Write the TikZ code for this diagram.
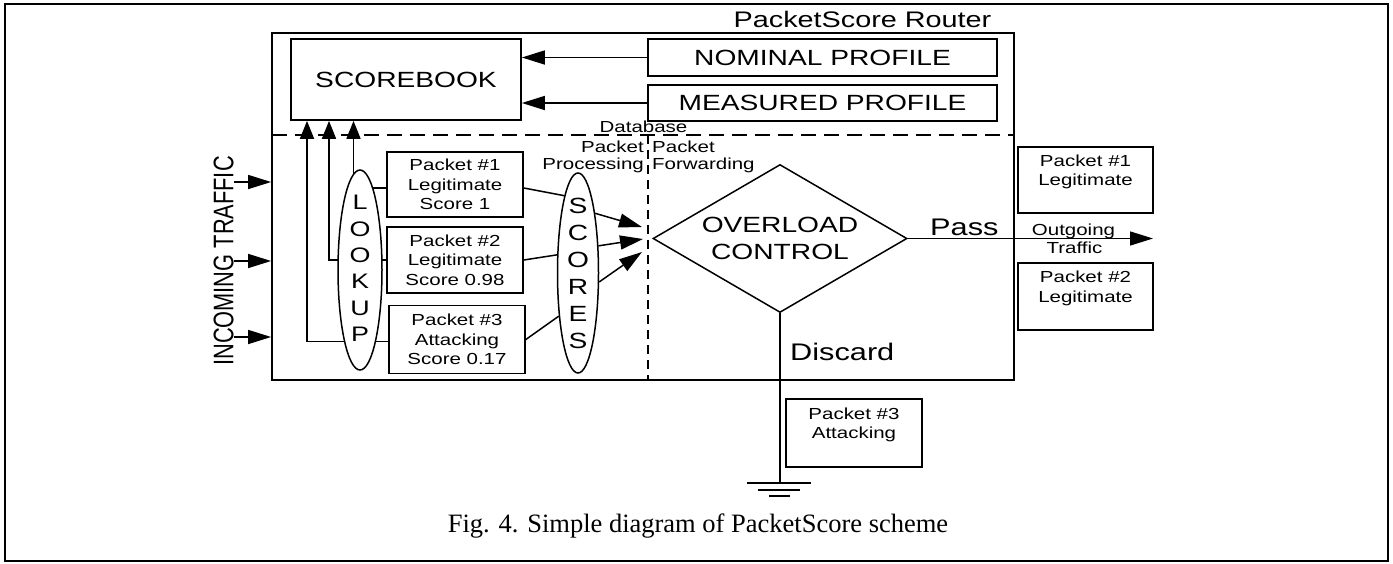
\documentclass[tikz,border=0pt]{standalone}
\usepackage{graphicx}
\usepackage{fontspec}
\setmainfont{Liberation Serif}
\newfontfamily\dfont[FakeStretch=1.28]{Liberation Sans}
\newfontfamily\rfont{Liberation Sans}
\usetikzlibrary{arrows.meta,shapes.geometric,backgrounds}
\newcommand\dsize[2]{\dfont\fontsize{#1}{#2}\selectfont}

\tikzset{
  box/.style={draw, line width=1.7pt, inner sep=0pt, align=center},
  pbox/.style={box, minimum width=136pt, minimum height=66pt, font=\dsize{16}{19.3}},
  lbl/.style={inner sep=0pt},
  letters/.style={inner sep=0pt, align=center},
  conn/.style={line width=1.5pt},
  arr/.style={conn, -{Triangle[length=23pt,width=14pt]}},
  uparr/.style={conn, -{Triangle[length=18pt,width=14pt]}},
  hdash/.style={line width=1.6pt, dash pattern=on 15pt off 8pt},
  vdash/.style={line width=1.6pt, dash pattern=on 9pt off 6pt},
  oval/.style={ellipse, draw, fill=white, line width=1.5pt, inner sep=0pt},
}

\begin{document}
\begin{tikzpicture}[x=1pt, y=-1pt, line join=miter]
\useasboundingbox (0,0) rectangle (1393,564);

% page frame
\draw[line width=2.6pt] (5,4) rectangle (1388,561);

% router enclosure and title
\node[box, minimum width=742pt, minimum height=347pt] (router) at (643,206.5) {};
\node[lbl, anchor=base, font=\dsize{22.5}{27}] (title) at (862.5,28) {PacketScore Router};

% database part
\node[box, minimum width=230pt, minimum height=81pt, font=\dsize{22}{26}] (scorebook) at (406,79.5) {SCOREBOOK};
\node[box, minimum width=349pt, minimum height=37pt, font=\dsize{22}{26}] (nominal) at (822.5,57.5) {NOMINAL PROFILE};
\node[box, minimum width=349pt, minimum height=36pt, font=\dsize{22}{26}] (measured) at (822.5,103) {MEASURED PROFILE};
\draw[arr] (nominal.west) -- (nominal.west -| scorebook.east);
\draw[arr] (measured.west) -- (measured.west -| scorebook.east);

% section separators
\coordinate (dbl) at (272,135);
\coordinate (dbr) at (1014,135);
\coordinate (vtop) at (648,135);
\draw[hdash] (dbl) -- (dbr);
\draw[vdash] (vtop) -- (vtop |- router.south);

\node[lbl, anchor=base, font=\dsize{16}{19}] (database) at (643.5,133) {Database};
\node[lbl, anchor=base east, font=\dsize{16}{19}] (pp1) at (644,153) {Packet};
\node[lbl, anchor=base east, font=\dsize{16}{19}] (pp2) at (644,169.5) {Processing};
\node[lbl, anchor=base west, font=\dsize{16}{19}] (pf1) at (652,153) {Packet};
\node[lbl, anchor=base west, font=\dsize{16}{19}] (pf2) at (652,169.5) {Forwarding};

% incoming traffic
\node[lbl, rotate=90, font=\rfont\fontsize{21.8}{26}\selectfont] (incoming) at (223.5,261)
  {\scalebox{1}[1.3]{INCOMING TRAFFIC}};
\coordinate (in1) at (234,182);
\coordinate (in2) at (234,261);
\coordinate (in3) at (234,337);
\draw[arr] (in1) -- (in1 -| router.west);
\draw[arr] (in2) -- (in2 -| router.west);
\draw[arr] (in3) -- (in3 -| router.west);

% packets being scored
\node[pbox, minimum height=65pt] (p1) at (455,184.5) {Packet \#1\\Legitimate\\Score 1};
\node[pbox] (p2) at (455,260) {Packet \#2\\Legitimate\\Score 0.98};
\node[pbox, minimum height=68pt] (p3) at (457,339.5) {Packet \#3\\Attacking\\Score 0.17};

% lookup and scores ovals
\node[oval, minimum width=44pt, minimum height=200pt] (lookup) at (360,270) {};
\node[letters, font=\dsize{21}{26.3}, yshift=1.5pt] (lookuptxt) at (lookup.center) {L\\O\\O\\K\\U\\P};
\node[oval, minimum width=41pt, minimum height=200pt] (scores) at (578,273) {};
\node[letters, font=\dsize{22}{27}] (scorestxt) at (scores.center) {S\\C\\O\\R\\E\\S};

\begin{pgfonlayer}{background}
  \draw[conn] ([yshift=-3.5pt]p1.west) -- ([yshift=-3.5pt]p1.west -| lookup.center);
  \draw[uparr] ([xshift=-6.5pt]lookup.center) -- ([xshift=-6.5pt]lookup.center |- scorebook.south);
  \draw[uparr] (p2.west) -| ([xshift=-77pt]scorebook.south);
  \draw[uparr] ([yshift=-2pt]p3.west) -| ([xshift=-99pt]scorebook.south);
\end{pgfonlayer}

\draw[conn] ([yshift=-3.5pt]p1.east) -- (scores.100.6);
\draw[conn] (p2.east) -- (scores.139.4);
\draw[conn] (p3.east) -- (scores.246.2);

\coordinate (m1) at (642,227);
\coordinate (m2) at (643,239);
\coordinate (m3) at (642,252);
\draw[arr] (scores.74.6) -- (m1);
\draw[arr] (scores.53) -- (m2);
\draw[arr] (scores.-23.1) -- (m3);

% overload control
\node[diamond, draw, line width=1.5pt, aspect=1.716, minimum width=254pt, minimum height=148pt,
      inner sep=0pt, align=center, font=\dsize{22}{26.7}] (ovl) at (780,238.5) {OVERLOAD\\CONTROL};

\coordinate (outtip) at (1153,238.5);
\draw[arr] (ovl.east) -- (outtip);
\node[lbl, anchor=base west, font=\dsize{24}{28}] (pass) at (930,236) {Pass};
\node[lbl, anchor=base, font=\dsize{16}{19}] (outgoing) at (1073.5,236) {Outgoing};
\node[lbl, anchor=base, font=\dsize{16}{19}] (traffic) at (1074.5,254) {Traffic};

\node[pbox, minimum width=135pt] (r1) at (1085.5,180) {Packet \#1\\Legitimate\\~};
\node[pbox, minimum width=135pt, minimum height=67pt] (r2) at (1085.5,296.5) {Packet \#2\\Legitimate\\~};

% discard path to ground
\coordinate (gnd) at (780,483);
\draw[conn] (ovl.south) -- (gnd);
\draw[conn] ([xshift=-33pt]gnd) -- ([xshift=31pt]gnd);
\draw[conn] ([xshift=-22pt,yshift=-7pt]gnd) -- ([xshift=20pt,yshift=-7pt]gnd);
\draw[conn] ([xshift=-11pt,yshift=-13pt]gnd) -- ([xshift=10pt,yshift=-13pt]gnd);
\node[lbl, anchor=base west, font=\dsize{24}{28}] (discard) at (790,360) {Discard};
\node[pbox, minimum height=68pt] (r3) at (854,433) {Packet \#3\\Attacking\\~};

% caption
\node[lbl, anchor=base, font=\fontsize{26.5}{30}\selectfont] (caption) at (698,532)
  {Fig. 4. Simple diagram of PacketScore scheme};
\end{tikzpicture}
\end{document}
